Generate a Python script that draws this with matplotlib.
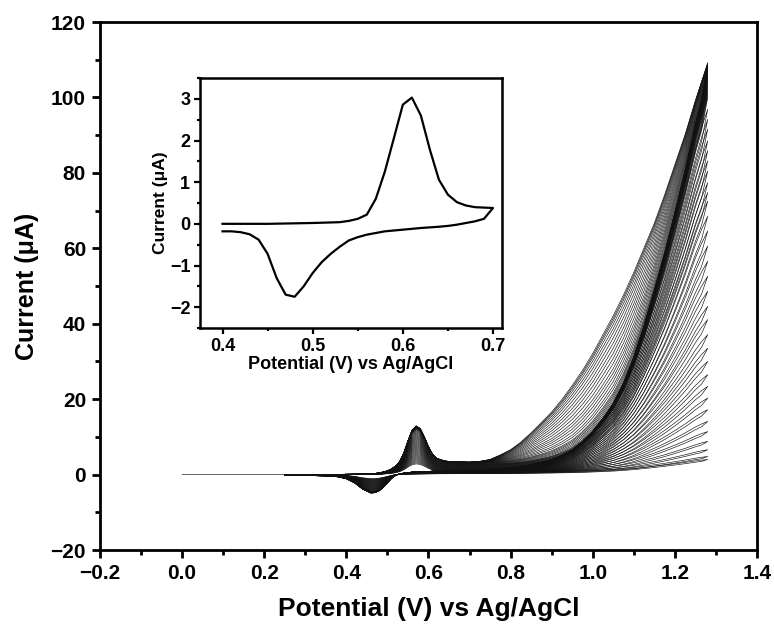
import numpy as np
import matplotlib
matplotlib.use("Agg")
import matplotlib.pyplot as plt
from matplotlib.ticker import MultipleLocator, FuncFormatter

plt.rcParams['font.family'] = ['Liberation Sans', 'DejaVu Sans']
plt.rcParams['font.weight'] = 'bold'

# ---------------- main-plot data ----------------
# common potential grid (V)
E_grid = [0.25, 0.30, 0.35, 0.38, 0.40, 0.42, 0.44, 0.46, 0.47, 0.48, 0.49, 0.50,
          0.51, 0.52, 0.53, 0.54, 0.55, 0.56, 0.57, 0.58, 0.59, 0.60, 0.61, 0.62,
          0.64, 0.66, 0.70, 0.725, 0.75, 0.775, 0.80, 0.825, 0.85, 0.875, 0.90,
          0.925, 0.95, 0.975, 1.00, 1.025, 1.05, 1.075, 1.10, 1.125, 1.15, 1.175,
          1.20, 1.225, 1.25, 1.265, 1.28]

# forward redox + background current of the largest cycle (uA)
redox_fwd = [0.0, 0.0, 0.02, 0.05, 0.08, 0.10, 0.15, 0.25, 0.30, 0.45, 0.70, 1.0,
             1.5, 2.3, 3.5, 5.8, 9.0, 11.8, 12.9, 12.2, 10.0, 7.4, 5.4, 4.3,
             3.6, 3.4, 3.3, 3.2, 3.2, 3.2, 3.1, 3.1, 3.1, 3.1, 3.1,
             3.1, 3.1, 3.1, 3.1, 3.1, 3.1, 3.1, 3.1, 3.1, 3.1, 3.1,
             3.1, 3.1, 3.1, 3.1, 3.1]
# reverse redox + background current of the largest cycle (uA)
redox_rev = [-0.20, -0.25, -0.35, -0.60, -1.10, -2.20, -3.90, -4.90, -4.80, -4.30, -3.40, -2.20,
             -1.00, -0.20, 0.20, 0.40, 0.55, 0.65, 0.70, 0.75, 0.80, 0.85, 0.90, 0.95,
             1.00, 1.05, 1.15, 1.20, 1.25, 1.30, 1.35, 1.40, 1.45, 1.50, 1.55,
             1.60, 1.65, 1.68, 1.70, 1.72, 1.75, 1.78, 1.80, 1.82, 1.85, 1.88,
             1.90, 1.92, 1.95, 1.98, 2.00]
# oxidation wave, steep shape (inner dark band)
wave_steep = [0, 0, 0, 0, 0, 0, 0, 0, 0, 0, 0, 0,
              0, 0, 0, 0, 0, 0, 0, 0, 0, 0, 0, 0,
              0, 0, 0, 0.1, 0.2, 0.35, 0.5, 0.8, 1.2, 1.8, 2.5,
              3.6, 5.0, 7.2, 10.0, 13.5, 17.5, 23.0, 30.0, 38.5, 48.0, 58.0,
              69.0, 80.5, 93.0, 99.5, 105.0]
# oxidation wave, broad shape (outermost curve)
wave_broad = [0, 0, 0, 0, 0, 0, 0, 0, 0, 0, 0, 0,
              0, 0, 0, 0, 0, 0, 0, 0, 0, 0, 0, 0,
              0, 0, 0, 0.3, 0.8, 2.0, 3.5, 5.5, 8.0, 10.7, 13.5,
              16.8, 20.5, 24.5, 29.0, 34.0, 39.0, 44.5, 50.5, 57.0, 63.5, 71.0,
              79.0, 87.0, 96.0, 101.0, 106.0]

# current at the switching potential (1.28 V) for each cycle (uA)
I_end = [4.0, 4.8, 6.6, 8.8, 11.4, 14.1, 17.2, 20.3, 23.4, 26.5, 30.0, 33.5,
         37.1, 41.1, 44.6, 48.6, 52.6, 56.6, 60.6, 64.6, 68.5, 72.5, 74.8, 77.4,
         80.5, 83.2, 85.9, 88.5, 91.6, 94.2, 96.9,
         100.0, 100.8, 101.5, 102.2, 102.8, 103.4, 104.0, 104.5, 105.0, 105.4,
         105.8, 106.2, 106.6, 107.0, 107.3, 107.6, 107.9, 108.2, 108.4, 108.6,
         108.8, 109.0, 109.1, 109.2]
# share of the broad wave shape in each cycle
w_broad = [0, 0, 0, 0, 0, 0, 0, 0, 0, 0, 0, 0,
           0, 0, 0, 0, 0, 0, 0, 0, 0, 0, 0, 0,
           0, 0, 0, 0, 0, 0, 0,
           0.0, 0.02, 0.04, 0.06, 0.08, 0.10, 0.14, 0.18, 0.23, 0.28,
           0.33, 0.38, 0.44, 0.50, 0.56, 0.62, 0.68, 0.74, 0.80, 0.85,
           0.90, 0.94, 0.97, 1.0]
# relative size of the redox peaks in each cycle
peak_scale = [0.22, 0.24, 0.26, 0.28, 0.30, 0.32, 0.34, 0.36, 0.38, 0.40, 0.42, 0.44,
              0.46, 0.48, 0.50, 0.52, 0.54, 0.56, 0.58, 0.60, 0.62, 0.64, 0.66, 0.68,
              0.70, 0.72, 0.74, 0.76, 0.78, 0.80, 0.82,
              0.84, 0.86, 0.88, 0.90, 0.92, 0.93, 0.94, 0.95, 0.96, 0.965,
              0.97, 0.975, 0.98, 0.98, 0.985, 0.985, 0.99, 0.99, 0.99, 0.995,
              0.995, 1.0, 1.0, 1.0]
rev_ratio = 0.97

# ---------------- inset data ----------------
E_in_fwd = [0.40, 0.45, 0.50, 0.53, 0.54, 0.55, 0.56, 0.57, 0.58, 0.59, 0.60, 0.61,
            0.62, 0.63, 0.64, 0.65, 0.66, 0.67, 0.68, 0.69, 0.70]
I_in_fwd = [0.00, 0.00, 0.02, 0.04, 0.07, 0.12, 0.22, 0.60, 1.25, 2.05, 2.86, 3.03,
            2.60, 1.78, 1.06, 0.70, 0.52, 0.44, 0.40, 0.39, 0.38]
E_in_rev = [0.70, 0.69, 0.68, 0.67, 0.66, 0.65, 0.64, 0.62, 0.60, 0.58, 0.56, 0.55,
            0.54, 0.53, 0.52, 0.51, 0.50, 0.49, 0.48, 0.47, 0.46, 0.45, 0.44, 0.43,
            0.42, 0.41, 0.40]
I_in_rev = [0.38, 0.12, 0.06, 0.02, -0.02, -0.05, -0.07, -0.10, -0.14, -0.18, -0.26, -0.32,
            -0.40, -0.55, -0.72, -0.92, -1.18, -1.50, -1.75, -1.70, -1.30, -0.72, -0.38, -0.25,
            -0.20, -0.18, -0.18]

# ---------------- figure ----------------
fig = plt.figure(figsize=(7.74, 6.33), dpi=100)
ax = fig.add_axes([100/774, 1-550/633, 657/774, 528/633])

E = np.array(E_grid)
rf = np.array(redox_fwd)
rr = np.array(redox_rev)
ws = np.array(wave_steep) / wave_steep[-1]
wb = np.array(wave_broad) / wave_broad[-1]

for k in range(len(I_end)):
    ps = peak_scale[k]
    base_f = rf * ps
    amp = I_end[k] - base_f[-1]
    shape = (1 - w_broad[k]) * ws + w_broad[k] * wb
    fwd = base_f + amp * shape
    rev = rr * ps + amp * rev_ratio * ws
    rev[-1] = fwd[-1]
    Ex = np.concatenate([E, E[::-1]])
    Ix = np.concatenate([fwd, rev[::-1]])
    if k == 0:
        Ex = np.concatenate([[0.0], Ex])
        Ix = np.concatenate([[0.0], Ix])
    ax.plot(Ex, Ix, color='#111111', lw=0.45)

ax.set_xlim(-0.2, 1.4)
ax.set_ylim(-20, 120)
ax.xaxis.set_major_locator(MultipleLocator(0.2))
ax.xaxis.set_minor_locator(MultipleLocator(0.1))
ax.yaxis.set_major_locator(MultipleLocator(20))
ax.yaxis.set_minor_locator(MultipleLocator(10))
ax.xaxis.set_major_formatter(FuncFormatter(lambda v, p: f"{v:.1f}".replace('-', '\u2212')))
ax.tick_params(which='major', direction='out', length=6, width=2, labelsize=15, pad=4)
ax.tick_params(which='minor', direction='out', length=3.5, width=2)
ax.tick_params(top=False, right=False)
for s in ax.spines.values():
    s.set_linewidth(2)
for lab in ax.get_xticklabels() + ax.get_yticklabels():
    lab.set_fontweight('bold')
ax.set_xlabel('Potential (V) vs Ag/AgCl', fontsize=19, fontweight='bold', labelpad=10)
ax.set_ylabel('Current (\u03bcA)', fontsize=18, fontweight='bold', labelpad=8)

# inset
axi = fig.add_axes([200/774, 1-328/633, 302/774, 250/633])
axi.plot(E_in_fwd + E_in_rev, I_in_fwd + I_in_rev, color='black', lw=1.6)
axi.set_xlim(0.375, 0.71)
axi.set_ylim(-2.5, 3.5)
axi.xaxis.set_major_locator(MultipleLocator(0.1))
axi.xaxis.set_minor_locator(MultipleLocator(0.05))
axi.yaxis.set_major_locator(MultipleLocator(1))
axi.yaxis.set_minor_locator(MultipleLocator(0.5))
axi.xaxis.set_major_formatter(FuncFormatter(lambda v, p: f"{v:.1f}"))
axi.tick_params(which='major', direction='out', length=4, width=1.6, labelsize=13, pad=3)
axi.tick_params(which='minor', direction='out', length=2.5, width=1.6)
for s in axi.spines.values():
    s.set_linewidth(1.8)
for lab in axi.get_xticklabels() + axi.get_yticklabels():
    lab.set_fontweight('bold')
axi.set_xlabel('Potential (V) vs Ag/AgCl', fontsize=13, fontweight='bold', labelpad=1)
axi.set_ylabel('Current (\u03bcA)', fontsize=12.5, fontweight='bold', labelpad=1)

fig.savefig('out.png', dpi=100)
